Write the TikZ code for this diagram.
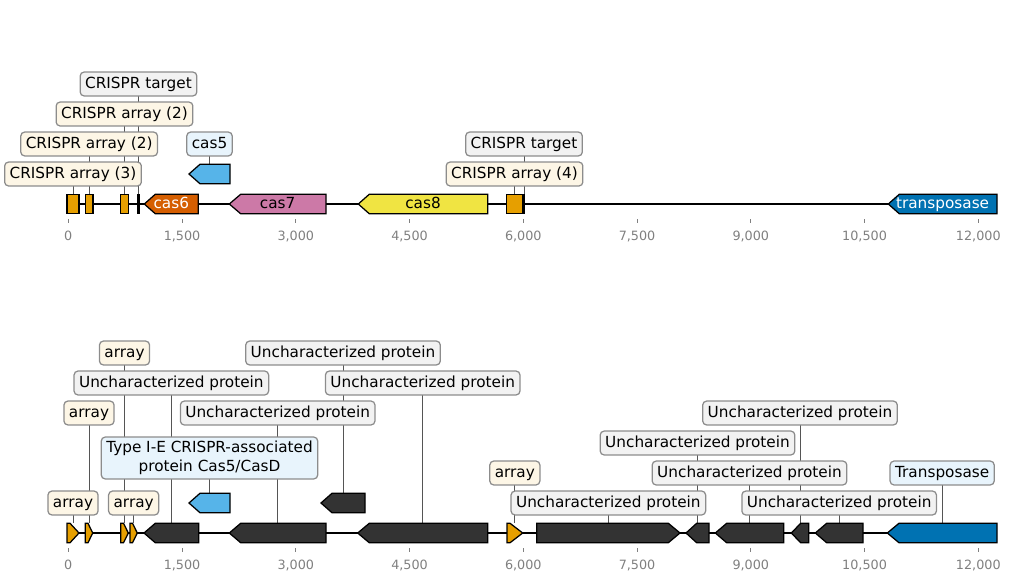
\documentclass[tikz,border=0pt]{standalone}
\usepackage{fontspec}
\setmainfont{DejaVu Sans}
\usetikzlibrary{backgrounds}

\definecolor{crispr}{HTML}{E69F00}
\definecolor{casvermil}{HTML}{D55E00}
\definecolor{cassky}{HTML}{56B4E9}
\definecolor{caspink}{HTML}{CC79A7}
\definecolor{casyellow}{HTML}{F0E442}
\definecolor{tnpblue}{HTML}{0072B2}
\definecolor{unkdark}{HTML}{333333}
\definecolor{lblcream}{HTML}{FDF6E6}
\definecolor{lblgray}{HTML}{F2F2F2}
\definecolor{lblblue}{HTML}{E8F4FC}
\definecolor{lblline}{HTML}{8C8C8C}
\definecolor{stemline}{HTML}{555555}
\definecolor{axgray}{HTML}{808080}

\tikzset{
  gene/.style={draw=black,line width=0.9pt,line join=miter},
  genetxt/.style={font=\fontsize{11}{13}\selectfont,inner sep=0pt,text height=8.2pt,text depth=2.4pt},
  boxlbl/.style={draw=lblline,line width=0.9pt,rounded corners=2.8pt,
    font=\fontsize{11}{13.5}\selectfont,inner xsep=3.6pt},
  onerow/.style={boxlbl,text height=8.2pt,text depth=2.4pt,inner ysep=3.3pt},
  arraylbl/.style={onerow,fill=lblcream},
  protlbl/.style={onerow,fill=lblgray},
  caslbl/.style={onerow,fill=lblblue},
  stem/.style={draw=stemline,line width=0.6pt},
  axisline/.style={draw=black,line width=1.4pt},
  tick/.style={draw=axgray,line width=0.6pt},
  ticklbl/.style={text=axgray,font=\fontsize{9.2}{11}\selectfont,inner sep=0pt,
    text height=6.7pt,text depth=1.5pt}
}

% gene arrows: name, tip/left, body, right/tip, centre y, colour
\newcommand{\revgene}[6]{%
  \draw[gene,fill=#6] (#2,#5) -- (#3,{#5-9.75}) -- (#4,{#5-9.75})
    -- (#4,{#5+9.75}) -- (#3,{#5+9.75}) -- cycle;
  \coordinate (#1) at ({(#2+#4)/2},{#5-9.75});}
\newcommand{\fwdgene}[6]{%
  \draw[gene,fill=#6] (#2,{#5-9.75}) -- (#3,{#5-9.75}) -- (#4,#5)
    -- (#3,{#5+9.75}) -- (#2,{#5+9.75}) -- cycle;
  \coordinate (#1) at ({(#2+#4)/2},{#5-9.75});}
\newcommand{\crisprbox}[4]{%
  \draw[gene,fill=crispr] (#2,{#4-9.75}) rectangle (#3,{#4+9.75});
  \coordinate (#1) at ({(#2+#3)/2},{#4-9.75});}
\newcommand{\targetbar}[3]{%
  \draw[gene,line width=1.5pt] (#2,{#3-9.75}) -- (#2,{#3+9.75});
  \coordinate (#1) at (#2,{#3-9.75});}

\begin{document}
\begin{tikzpicture}[x=0.72pt,y=-0.72pt]
  \useasboundingbox (0,0) rectangle (1012,582);

  % axes
  \foreach \ty in {204,533} {
    \draw[axisline] (68,\ty) -- (997,\ty);
    \foreach \v/\t in {0/0,1500/{1,500},3000/{3,000},4500/{4,500},6000/{6,000},
                       7500/{7,500},9000/{9,000},10500/{10,500},12000/{12,000}} {
      \draw[tick] ({68.3+\v*0.075833},\ty+15) -- ({68.3+\v*0.075833},\ty+19);
      \node (tk-\ty-\v) [ticklbl] at ({68.3+\v*0.075833},\ty+33) {\t};
    }
  }

  % top track
  \crisprbox{tA1}{67}{79}{204}
  \crisprbox{tA2}{85.3}{93}{204}
  \crisprbox{tA3}{120.7}{128.3}{204}
  \targetbar{tT1}{138.5}{204}
  \revgene{tcas6}{144.3}{155.3}{198.3}{204}{casvermil}
  \revgene{tcas5}{189}{200}{230}{174}{cassky}
  \revgene{tcas7}{229.3}{240.7}{326}{204}{caspink}
  \revgene{tcas8}{358.3}{369.3}{487.7}{204}{casyellow}
  \crisprbox{tA4}{506.3}{522.7}{204}
  \targetbar{tT2}{524}{204}
  \revgene{ttnp}{888.3}{899.3}{997}{204}{tnpblue}

  \node (gcas6) [genetxt,text=white] at (171.3,204) {cas6};
  \node (gcas7) [genetxt] at (277.7,204) {cas7};
  \node (gcas8) [genetxt] at (423,204) {cas8};
  \node (gtnp) [genetxt,text=white] at (942.6,204) {transposase};

  \node (lA1) [arraylbl] at (tA1 |- 0,174) {CRISPR array (3)};
  \node (lA2) [arraylbl] at (tA2 |- 0,144) {CRISPR array (2)};
  \node (lA3) [arraylbl] at (tA3 |- 0,114) {CRISPR array (2)};
  \node (lT1) [protlbl] at (tT1 |- 0,84) {CRISPR target};
  \node (lcas5) [caslbl] at (tcas5 |- 0,144) {cas5};
  \node (lA4) [arraylbl] at (tA4 |- 0,174) {CRISPR array (4)};
  \node (lT2) [protlbl] at (tT2 |- 0,144) {CRISPR target};

  % bottom track
  \fwdgene{bA1}{67}{70}{79}{533}{crispr}
  \fwdgene{bA2}{85.3}{88}{92.7}{533}{crispr}
  \fwdgene{bA3}{120.7}{123.5}{128.3}{533}{crispr}
  \fwdgene{bA4}{130}{132.5}{137.3}{533}{crispr}
  \revgene{bU1}{144}{155.3}{198.7}{533}{unkdark}
  \revgene{bcas5}{189}{200}{230}{503}{cassky}
  \revgene{bU2}{229.3}{240.7}{326}{533}{unkdark}
  \revgene{bU3}{321}{332}{365}{503}{unkdark}
  \revgene{bU4}{357.7}{369.3}{487.7}{533}{unkdark}
  \fwdgene{bA5}{507}{510}{522.7}{533}{crispr}
  \fwdgene{bU5}{536.7}{668.3}{680}{533}{unkdark}
  \revgene{bU6}{686}{696.7}{709}{533}{unkdark}
  \revgene{bU7}{715.3}{726.7}{783.7}{533}{unkdark}
  \revgene{bU8}{791.3}{800.7}{808.7}{533}{unkdark}
  \revgene{bU9}{815.3}{826.7}{863}{533}{unkdark}
  \revgene{btnp}{887.3}{899}{997}{533}{tnpblue}

  \node (mA1) [arraylbl] at (bA1 |- 0,503) {array};
  \node (mA4) [arraylbl] at (bA4 |- 0,503) {array};
  \node (mA2) [arraylbl] at (bA2 |- 0,413) {array};
  \node (mA3) [arraylbl] at (bA3 |- 0,353) {array};
  \node (mU1) [protlbl] at (bU1 |- 0,383) {Uncharacterized protein\ };
  \node (mU2) [protlbl] at (bU2 |- 0,413) {Uncharacterized protein\ };
  \node (mcas5) [boxlbl,fill=lblblue,align=center,inner ysep=3pt]
    at (bcas5 |- 0,458) {Type I-E CRISPR-associated\\protein Cas5/CasD};
  \node (mU3) [protlbl] at (bU3 |- 0,353) {Uncharacterized protein\ };
  \node (mU4) [protlbl] at (bU4 |- 0,383) {Uncharacterized protein\ };
  \node (mA5) [arraylbl] at (bA5 |- 0,473) {array};
  \node (mU5) [protlbl] at (bU5 |- 0,503) {Uncharacterized protein\ };
  \node (mU6) [protlbl] at (bU6 |- 0,443) {Uncharacterized protein\ };
  \node (mU7) [protlbl] at (bU7 |- 0,473) {Uncharacterized protein\ };
  \node (mU8) [protlbl] at (bU8 |- 0,413) {Uncharacterized protein\ };
  \node (mU9) [protlbl] at (bU9 |- 0,503) {Uncharacterized protein\ };
  \node (mtnp) [caslbl] at (btnp |- 0,473) {Transposase\ };

  % stems behind the boxes
  \begin{scope}[on background layer]
    \foreach \a/\b in {lA1/tA1,lA2/tA2,lA3/tA3,lT1/tT1,lcas5/tcas5,lA4/tA4,lT2/tT2,
                       mA1/bA1,mA4/bA4,mA2/bA2,mA3/bA3,mU1/bU1,mU2/bU2,mcas5/bcas5,
                       mU3/bU3,mU4/bU4,mA5/bA5,mU5/bU5,mU6/bU6,mU7/bU7,mU8/bU8,
                       mU9/bU9,mtnp/btnp}
      \draw[stem] (\a.center) -- (\b);
  \end{scope}
\end{tikzpicture}
\end{document}
